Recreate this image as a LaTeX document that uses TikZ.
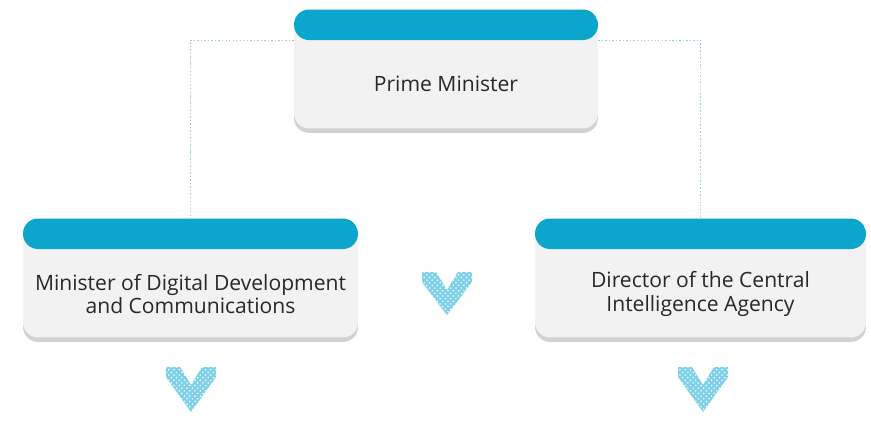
\documentclass[tikz,border=0pt]{standalone}
\usepackage{fontspec}
\setmainfont{Open Sans}
\usetikzlibrary{shadows,patterns}

\definecolor{bandblue}{RGB}{12,166,204}
\definecolor{boxgray}{RGB}{242,242,242}
\definecolor{txtgray}{RGB}{40,40,40}
\definecolor{linkblue}{RGB}{150,205,220}
\definecolor{chevblue}{RGB}{125,208,232}

\begin{document}
\begin{tikzpicture}[x=0.02cm, y=-0.02cm,
        orgbox/.style={rounded corners=0.3cm, fill=boxgray, minimum height=2.38cm,
          drop shadow={shadow xshift=0pt, shadow yshift=-2.5pt, opacity=.45, fill=gray!80},
          path picture={\fill[bandblue] (path picture bounding box.north west)
            rectangle ([yshift=-0.61cm]path picture bounding box.north east);}},
        orgtext/.style={text=txtgray, align=center, font=\fontsize{12}{13.6}\selectfont},
        link/.style={linkblue, line width=0.7pt, dash pattern=on 0.8pt off 1.2pt},
        chev/.style={fill=chevblue, postaction={pattern=crosshatch dots, pattern color=white}}
      ]

      \useasboundingbox (0,0) rectangle (871,433);

      \node[orgbox, minimum width=6.08cm] (pm)   at (446,69)   {};
      \node[orgbox, minimum width=6.7cm]  (mddc) at (190.5,278) {};
      \node[orgbox, minimum width=6.62cm] (dcia) at (700.5,278) {};

      \node[orgtext] (pmtext)   at (446,84)    {Prime Minister};
      \node[orgtext] (mddctext) at (190.5,294) {Minister of Digital Development\\and Communications};
      \node[orgtext] (dciatext) at (700.5,294) {Director of the Central\\Intelligence Agency};

      \draw[link] ([yshift=-0.62cm]pm.north west) -| (mddc.north);
      \draw[link] ([yshift=-0.62cm]pm.north east) -| (dcia.north);

      \fill[chev] (422,272) -- ++(0,10) -- (447,315) -- (472,282) -- ++(0,-10) -- ++(-14,0) -- (447,290) -- (436,272) -- cycle;
      \fill[chev] (166,367) -- ++(0,10) -- (191,412) -- (216,377) -- ++(0,-10) -- ++(-14,0) -- (191,385) -- (180,367) -- cycle;
      \fill[chev] (678,367) -- ++(0,10) -- (703,412) -- (728,377) -- ++(0,-10) -- ++(-14,0) -- (703,385) -- (692,367) -- cycle;

    \end{tikzpicture}
\end{document}
